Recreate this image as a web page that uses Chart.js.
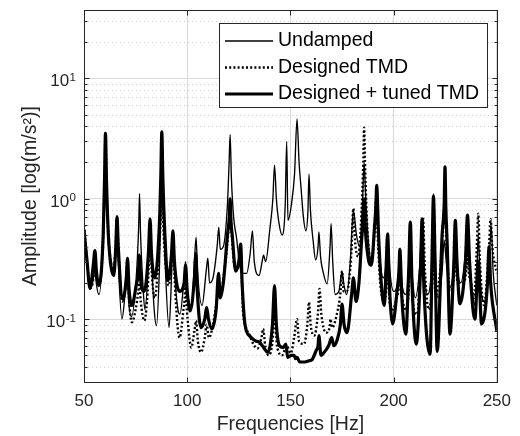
<!DOCTYPE html>
<html><head><meta charset="utf-8">
<script src="https://cdn.jsdelivr.net/npm/chart.js@4"></script>
<style>html,body{margin:0;padding:0;background:#fff;}#wrap{width:520px;height:436px;}</style>
</head><body><div id="wrap"><canvas id="c" width="520" height="436"></canvas></div>
<script>
// ---- data ----
const seriesLabels = ['Undamped', 'Designed TMD', 'Designed + tuned TMD'];

const undampedHz = [
 50,51.5,53.2,54.9,55.3,55.7,57.3,59.3,60,60.4,
 60.9,61.8,63.5,64.8,65.6,66,66.4,66.8,68.4,70,
 70.4,70.8,71.2,71.5,73,75.5,76.5,76.9,77.4,78.5,
 79.5,81.3,82.1,82.8,84,85.1,86.5,87.3,87.8,88.3,
 89.3,91.2,92.5,93.2,93.9,95.5,96.5,98.5,99.2,100.3,
 102.2,103.5,104.3,105,107.2,109.2,110,110.8,112.5,114.5,
 115.3,116,117.5,119.5,120.3,120.8,121.4,122.5,124,125.2,
 126.4,128.8,130.5,131.6,132.5,134.8,136.3,137,138,140,
 141.5,142.3,143.2,144.5,146,147.5,148.2,148.8,150.5,152,
 153.2,154.2,155.2,156.3,157.5,158.5,159,159.7,161,162.2,
 163.4,163.8,164.6,166,167.8,169.2,169.7,170.5,171.7,173.5,
 175,176,177.3,179,180.5,182,183.5,185,185.7,186.5,
 188,189.3,190.8,191.6,192.5,193.5,195,196.7,197.1,198.2,
 200,202,203,204,206,207.4,207.8,208.8,210.5,212.8,
 213.7,214.6,216.5,218.8,219.4,220,221.5,223.5,224.5,225.5,
 227,229.3,230,230.8,232.5,235,235.8,236.6,238.5,239.5,
 240.5,241,242,244,246.5,247.3,248.2,250];
const undampedAmp = [
 0.6,0.3,0.18,0.24,0.28,0.22,0.16,0.5,1.6,3.5,
 1.4,0.5,0.25,0.3,0.45,0.7,0.4,0.25,0.1,0.17,
 0.2,0.3,0.2,0.15,0.105,0.25,0.6,1.1,0.5,0.2,
 0.12,0.3,0.68,0.3,0.12,0.088,0.25,0.9,3.4,1.0,
 0.3,0.085,0.25,0.52,0.25,0.12,0.11,0.22,0.3,0.16,
 0.13,0.3,0.48,0.25,0.13,0.25,0.32,0.2,0.22,0.4,
 0.58,0.38,0.4,0.9,2.0,3.4,1.5,0.7,0.46,0.3,
 0.24,0.24,0.35,0.54,0.3,0.23,0.3,0.34,0.3,0.55,
 1.0,1.9,1.0,0.62,0.5,0.9,3.0,0.66,0.9,1.6,
 4.6,2.0,1.2,0.7,0.54,0.8,1.6,0.8,0.45,0.31,
 0.4,0.53,0.33,0.24,0.196,0.4,0.62,0.3,0.16,0.17,
 0.25,0.19,0.16,0.3,0.8,0.5,0.4,1.0,2.0,1.0,
 0.4,0.3,0.6,1.3,0.6,0.3,0.22,0.35,0.5,0.25,
 0.17,0.2,0.38,0.2,0.16,0.3,0.45,0.25,0.15,0.3,
 0.62,0.28,0.16,0.4,1.1,0.35,0.15,0.25,0.45,0.3,
 0.18,0.3,0.55,0.28,0.2,0.4,0.7,0.35,0.15,0.13,
 0.3,0.5,0.2,0.14,0.35,0.6,0.25,0.13];

const designedHz = [
 50,51.5,53,54.9,55.3,55.7,57.2,59.3,60,60.4,
 60.9,61.8,63,64.4,65.3,66,66.7,68.5,70.3,71,
 71.8,73.2,75,76.3,76.8,77.5,79.2,80.5,81.5,82.1,
 82.8,84.3,86,87.2,87.8,88.4,89.8,91,92.5,93.2,
 94,96.3,98.2,98.8,99.2,99.6,100.2,102,103.5,104.3,
 105.2,106.7,108.5,109.4,110.5,112.5,114.5,115.3,116.2,118,
 119.8,120.8,121.6,123,125,125.9,127,128.5,130,132,
 134,136,136.8,137.8,139.5,141.5,142.3,143.5,146,148.2,
 150.2,151.8,153.2,154.2,156.6,158.2,159,159.8,161.6,163.3,
 164.1,165,167.2,169,169.4,170.2,172.5,174.3,175,175.8,
 177.3,179.5,180.5,181.3,182.8,184.5,185.3,185.7,186.2,187.3,
 189.2,190.8,191.6,192.4,193.5,195.5,196.7,197.1,198.2,199.5,
 201.5,202.6,203,203.4,204.5,206,207.7,208.1,209.5,211.5,
 213,214.2,215.2,217,218.9,219.3,220.5,222.5,224,224.8,
 225.6,227.3,229.5,229.9,230.3,231.5,233.5,235.4,235.8,236.2,
 237.5,239,240.3,241,241.8,243.8,246.2,247,247.8,250];
const designedAmp = [
 0.6,0.3,0.18,0.26,0.37,0.26,0.19,0.5,1.6,3.5,
 1.4,0.5,0.3,0.24,0.4,0.7,0.35,0.14,0.2,0.3,
 0.15,0.094,0.12,0.17,0.2,0.14,0.097,0.14,0.3,0.5,
 0.25,0.15,0.3,0.7,1.3,0.6,0.25,0.19,0.3,0.45,
 0.2,0.07,0.12,0.15,0.21,0.14,0.1,0.058,0.08,0.097,
 0.065,0.053,0.07,0.09,0.07,0.09,0.15,0.2,0.17,0.25,
 0.5,0.85,0.5,0.28,0.3,0.35,0.12,0.085,0.075,0.062,
 0.057,0.07,0.083,0.06,0.05,0.07,0.12,0.06,0.05,0.06,
 0.052,0.07,0.1,0.065,0.062,0.09,0.138,0.09,0.073,0.11,
 0.178,0.11,0.077,0.085,0.1,0.085,0.11,0.17,0.25,0.17,
 0.17,0.35,0.83,0.45,0.33,0.8,2.0,3.9,1.8,0.55,
 0.29,0.55,1.0,0.45,0.2,0.14,0.2,0.3,0.13,0.12,
 0.15,0.2,0.3,0.2,0.14,0.12,0.22,0.35,0.13,0.11,
 0.3,0.7,0.25,0.12,0.22,0.35,0.16,0.25,0.6,0.97,
 0.45,0.17,0.26,0.4,0.26,0.2,0.2,0.28,0.45,0.28,
 0.2,0.15,0.4,0.75,0.3,0.13,0.4,0.68,0.4,0.24];

const tunedHz = [
 50,51.5,52.9,54.5,55.3,56,57.2,59.3,60,60.4,
 60.9,61.8,63,64.4,65.4,66,66.6,68.8,70.5,71.1,
 71.8,73.2,75.5,76.4,76.8,77.6,79.2,81.2,82,82.7,
 84.3,86.5,87.2,87.7,88.2,89.2,90.7,92.3,93.1,93.8,
 96.3,98.5,99.2,100,101.4,103.5,104.2,104.9,106.7,108.5,
 109.4,110.3,112,114,115.2,116,117.5,119.5,120.4,120.8,
 121.2,121.8,123.5,125,125.9,126.6,128,130.4,133,135.1,
 137,139,141.3,142.3,143.2,144.7,146.5,147.8,148.7,150.5,
 151.8,152.5,153.2,154.5,157,159,160.5,162.5,163.4,163.8,
 164.8,166,168.5,170,171,172.5,174.2,175,176,177.4,
 179.8,180.5,181.8,183.2,184.5,185.3,185.7,186.1,186.7,188,
 189.2,190.8,191.4,191.8,192.7,194,195.5,196.3,197.1,197.9,
 199.5,201.8,202.6,203,204,205.9,207.3,208.1,208.9,211,
 213,213.8,214.6,217.7,218.7,219.3,220.1,221.1,223.5,224.5,
 224.9,225.3,226,227.3,229.2,229.9,230.7,232.1,234.8,235.8,
 236.8,239.4,241,242.6,245.5,246.2,247,250];
const tunedAmp = [
 0.55,0.3,0.18,0.28,0.37,0.25,0.19,0.5,1.6,3.5,
 1.4,0.5,0.28,0.23,0.4,0.71,0.4,0.147,0.22,0.32,
 0.18,0.13,0.2,0.24,0.34,0.2,0.17,0.35,0.68,0.35,
 0.22,0.6,1.5,3.6,1.5,0.5,0.21,0.33,0.54,0.3,
 0.17,0.2,0.28,0.17,0.117,0.22,0.35,0.17,0.085,0.1,
 0.125,0.1,0.083,0.12,0.24,0.15,0.2,0.5,0.7,1.0,
 0.65,0.5,0.25,0.3,0.42,0.2,0.09,0.072,0.066,0.064,
 0.058,0.053,0.09,0.19,0.09,0.06,0.058,0.062,0.048,0.05,
 0.05,0.047,0.048,0.044,0.044,0.045,0.046,0.055,0.06,0.073,
 0.05,0.052,0.06,0.07,0.06,0.066,0.09,0.133,0.09,0.077,
 0.17,0.22,0.14,0.2,0.45,0.7,1.0,0.65,0.45,0.3,
 0.28,0.6,0.85,1.29,0.5,0.2,0.13,0.25,0.51,0.2,
 0.091,0.18,0.25,0.38,0.15,0.075,0.25,0.64,0.2,0.062,
 0.25,0.68,0.2,0.051,0.4,1.05,0.3,0.054,0.5,0.9,
 1.84,0.85,0.4,0.075,0.3,0.66,0.3,0.134,0.3,0.73,
 0.3,0.1,0.3,0.091,0.2,0.4,0.2,0.08];

const xTickValues = [50, 100, 150, 200, 250];
const yMajorTicks = [0.1, 1, 10];
const yTickBase = ['10', '10', '10'];
const yTickExp = ['-1', '0', '1'];
const yMinorTicks = [0.03,0.04,0.05,0.06,0.07,0.08,0.09,0.2,0.3,0.4,0.5,0.6,0.7,0.8,0.9,2,3,4,5,6,7,8,9,20,30];
const xTitle = 'Frequencies [Hz]';
const yTitle = 'Amplitude [log(m/s\u00B2)]';
const yMin = 0.03, yMax = 37;

// ---- rendering ----
const FONT = "'Liberation Sans', Arial, 'DejaVu Sans', sans-serif";
const INK = '#262626';
const toXY = (fs, as) => fs.map((f, i) => ({x: f, y: as[i]}));

const framePlugin = {
  id: 'frame',
  beforeDatasetsDraw(chart) {
    const {ctx, chartArea: a, scales: {y}} = chart;
    ctx.save();
    ctx.strokeStyle = '#cfcfcf';
    ctx.lineWidth = 1;
    ctx.setLineDash([1, 3]);
    yMinorTicks.forEach(v => {
      const py = Math.round(y.getPixelForValue(v)) + 0.5;
      ctx.beginPath(); ctx.moveTo(a.left, py); ctx.lineTo(a.right, py); ctx.stroke();
    });
    ctx.restore();
  },
  afterDatasetsDraw(chart) {
    const {ctx, chartArea: a, scales: {x, y}} = chart;
    ctx.save();
    ctx.strokeStyle = INK;
    ctx.lineWidth = 1;
    ctx.setLineDash([]);
    const L = Math.round(a.left) + 0.5, R = Math.round(a.right) + 0.5;
    const T = Math.round(a.top) + 0.5, B = Math.round(a.bottom) + 0.5;
    ctx.strokeRect(L, T, R - L, B - T);
    ctx.beginPath();
    xTickValues.forEach(v => {
      const px = Math.round(x.getPixelForValue(v)) + 0.5;
      ctx.moveTo(px, B); ctx.lineTo(px, B - 5);
      ctx.moveTo(px, T); ctx.lineTo(px, T + 5);
    });
    yMajorTicks.forEach(v => {
      const py = Math.round(y.getPixelForValue(v)) + 0.5;
      ctx.moveTo(L, py); ctx.lineTo(L + 5, py);
      ctx.moveTo(R, py); ctx.lineTo(R - 5, py);
    });
    yMinorTicks.forEach(v => {
      const py = Math.round(y.getPixelForValue(v)) + 0.5;
      ctx.moveTo(L, py); ctx.lineTo(L + 3, py);
      ctx.moveTo(R, py); ctx.lineTo(R - 3, py);
    });
    ctx.stroke();

    // y tick labels: 10 with superscript exponent
    ctx.fillStyle = INK;
    ctx.textBaseline = 'alphabetic';
    yMajorTicks.forEach((v, i) => {
      const py = y.getPixelForValue(v);
      const right = 76;
      ctx.font = '11.5px ' + FONT;
      const ew = ctx.measureText(yTickExp[i]).width;
      ctx.textAlign = 'left';
      ctx.fillText(yTickExp[i], right - ew, py + 2.5);
      ctx.font = '17px ' + FONT;
      ctx.textAlign = 'right';
      ctx.fillText(yTickBase[i], right - ew - 0.5, py + 8);
    });

    // legend
    const bx = 219.5, by = 23.5, bw = 268, bh = 84;
    ctx.fillStyle = '#ffffff';
    ctx.fillRect(bx, by, bw, bh);
    ctx.strokeStyle = INK;
    ctx.lineWidth = 1;
    ctx.strokeRect(bx, by, bw, bh);
    const rows = [41, 67.5, 94];
    chart.data.datasets.forEach((ds, i) => {
      const ry = rows[i];
      ctx.save();
      ctx.strokeStyle = ds.borderColor;
      ctx.lineWidth = ds.borderWidth;
      ctx.setLineDash(ds.borderDash || []);
      ctx.beginPath(); ctx.moveTo(225, ry); ctx.lineTo(273, ry); ctx.stroke();
      ctx.restore();
      ctx.fillStyle = '#000';
      ctx.font = '19.5px ' + FONT;
      ctx.textBaseline = 'middle';
      ctx.textAlign = 'left';
      ctx.fillText(ds.label, 278, ry);
    });
    ctx.restore();
  }
};

new Chart(document.getElementById('c'), {
  type: 'line',
  data: {
    datasets: [
      {label: seriesLabels[0], data: toXY(undampedHz, undampedAmp), borderColor: '#000', borderWidth: 1.35, order: 3},
      {label: seriesLabels[1], data: toXY(designedHz, designedAmp), borderColor: '#000', borderWidth: 2.4, borderDash: [2, 2.2], order: 2},
      {label: seriesLabels[2], data: toXY(tunedHz, tunedAmp), borderColor: '#000', borderWidth: 3.2, order: 1}
    ]
  },
  options: {
    responsive: false,
    animation: false,
    events: [],
    devicePixelRatio: 1,
    layout: {padding: {left: 0, right: 18, top: 10, bottom: 0}},
    elements: {point: {radius: 0}, line: {cubicInterpolationMode: 'monotone', fill: false, borderJoinStyle: 'round'}},
    plugins: {legend: {display: false}, tooltip: {enabled: false}},
    scales: {
      x: {
        type: 'linear', min: 50, max: 250,
        afterFit: s => { s.height = 54; },
        afterBuildTicks: s => { s.ticks = xTickValues.map(v => ({value: v})); },
        grid: {color: '#dadada', lineWidth: 1, drawTicks: false},
        border: {display: false},
        ticks: {padding: 9, color: INK, font: {family: FONT, size: 17}, callback: v => String(v), maxRotation: 0, autoSkip: false},
        title: {display: true, text: xTitle, color: INK, font: {family: FONT, size: 19.5}, padding: {top: 0, bottom: 0}}
      },
      y: {
        type: 'logarithmic', min: yMin, max: yMax,
        afterFit: s => { s.width = 84; },
        afterBuildTicks: s => { s.ticks = yMajorTicks.map(v => ({value: v})); },
        grid: {color: '#dadada', lineWidth: 1, drawTicks: false},
        border: {display: false},
        ticks: {display: false},
        title: {display: true, text: yTitle, color: INK, font: {family: FONT, size: 19.5}, padding: {top: 19, bottom: 0}}
      }
    }
  },
  plugins: [framePlugin]
});
</script>
</body></html>
